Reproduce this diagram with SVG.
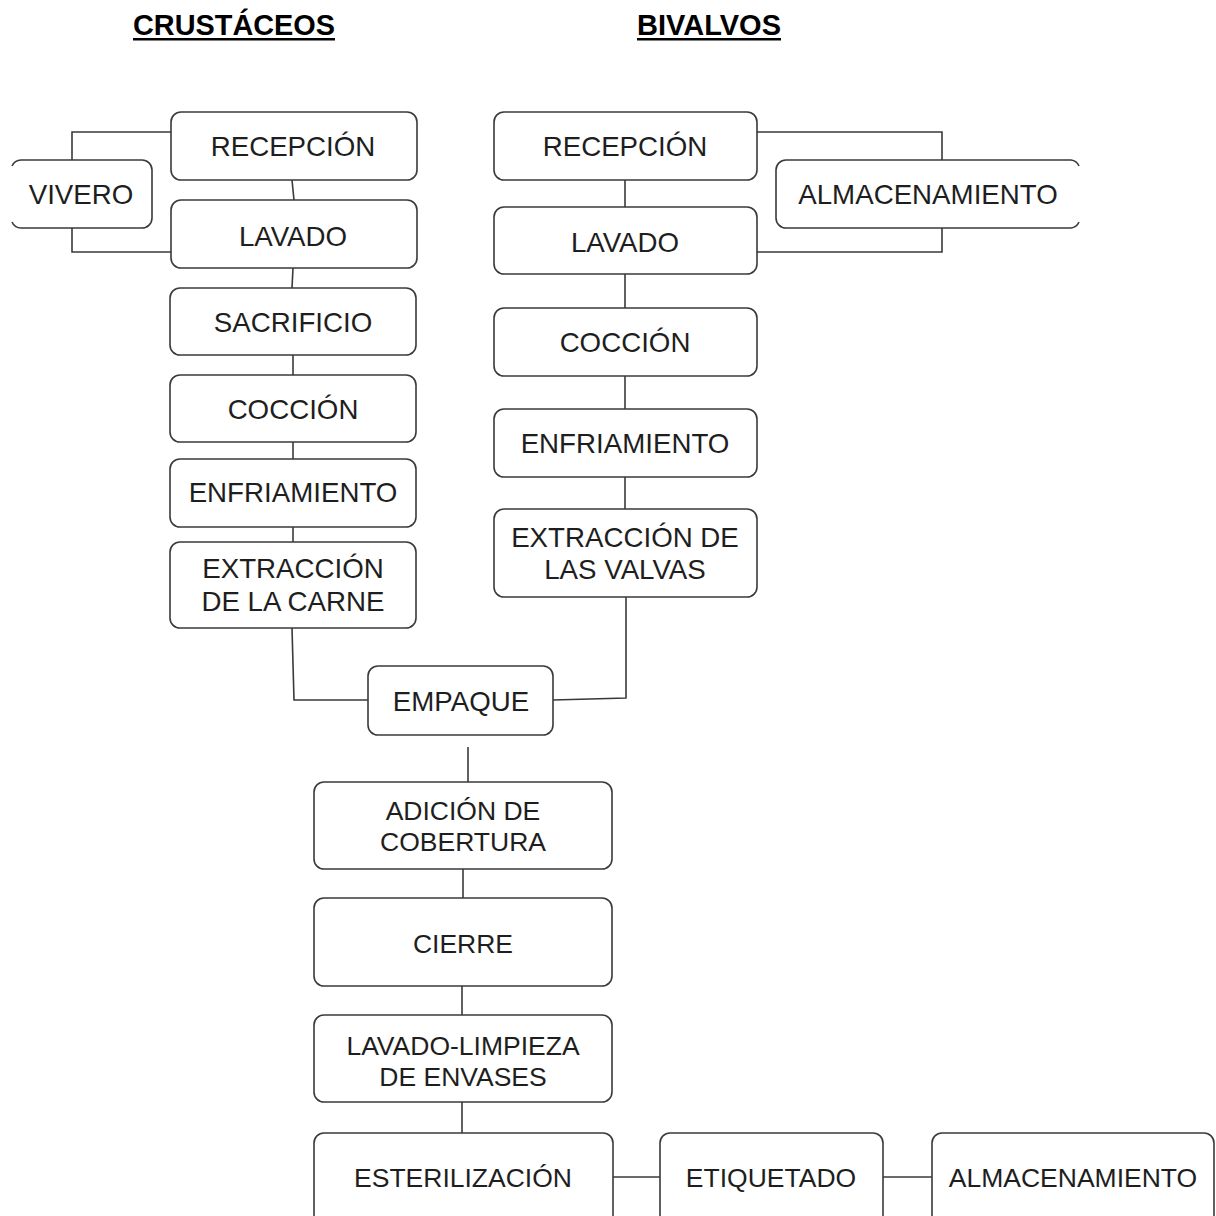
<svg xmlns="http://www.w3.org/2000/svg" width="1216" height="1216" viewBox="0 0 1216 1216">
<style>
.box{fill:#fff;stroke:#3a3a3a;stroke-width:1.6}
.lbl{font-family:"Liberation Sans",Arial,sans-serif;font-size:26.5px;fill:#1e1e1e;text-anchor:middle}
.big{font-size:27.7px}
.ttl{font-family:"Liberation Sans",Arial,sans-serif;font-size:29px;font-weight:bold;fill:#000;text-anchor:middle}
.con{fill:none;stroke:#3a3a3a;stroke-width:1.6}
</style>
<rect width="1216" height="1216" fill="#fff"/>
<g id="titles">
<text class="ttl" x="234" y="35" textLength="202" lengthAdjust="spacingAndGlyphs">CRUSTÁCEOS</text>
<rect x="133" y="38" width="202" height="2.5" fill="#000"/>
<text class="ttl" x="709" y="35" textLength="144" lengthAdjust="spacingAndGlyphs">BIVALVOS</text>
<rect x="637" y="38" width="144" height="2.5" fill="#000"/>
</g>
<g id="connectors">
<path class="con" d="M171 132 H72 V160"/>
<path class="con" d="M72 228 V252 H171"/>
<path class="con" d="M292 180 L294 200"/>
<path class="con" d="M293 268 L292 288"/>
<path class="con" d="M293 355 V375"/>
<path class="con" d="M293 442 V459"/>
<path class="con" d="M293 527 V542"/>
<path class="con" d="M292 628 L294 700 H368"/>
<path class="con" d="M757 132 H942 V160"/>
<path class="con" d="M942 228 V252 H757"/>
<path class="con" d="M625 180 V207"/>
<path class="con" d="M625 274 V308"/>
<path class="con" d="M625 376 V409"/>
<path class="con" d="M625 477 V509"/>
<path class="con" d="M626 597 V698 L553 700"/>
<path class="con" d="M468 747 V782"/>
<path class="con" d="M463 869 V898"/>
<path class="con" d="M462 986 V1015"/>
<path class="con" d="M462 1102 V1133"/>
<path class="con" d="M613 1177 H660"/>
<path class="con" d="M883 1177 H932"/>
</g>
<g id="n-vivero"><path class="box" d="M12 166 A10 10 0 0 1 21 160 H142 A10 10 0 0 1 152 170 V218 A10 10 0 0 1 142 228 H21 A10 10 0 0 1 12 222"/><text class="lbl big" x="81" y="204">VIVERO</text></g>
<g id="n-recepcion-c"><rect class="box" x="171" y="112" width="246" height="68" rx="10"/><text class="lbl big" x="293" y="156">RECEPCIÓN</text></g>
<g id="n-lavado-c"><rect class="box" x="171" y="200" width="246" height="68" rx="10"/><text class="lbl big" x="293" y="246">LAVADO</text></g>
<g id="n-sacrificio"><rect class="box" x="170" y="288" width="246" height="67" rx="10"/><text class="lbl big" x="293" y="332">SACRIFICIO</text></g>
<g id="n-coccion-c"><rect class="box" x="170" y="375" width="246" height="67" rx="10"/><text class="lbl big" x="293" y="419">COCCIÓN</text></g>
<g id="n-enfriamiento-c"><rect class="box" x="170" y="459" width="246" height="68" rx="10"/><text class="lbl big" x="293" y="502">ENFRIAMIENTO</text></g>
<g id="n-extraccion-c"><rect class="box" x="170" y="542" width="246" height="86" rx="10"/><text class="lbl big" x="293" y="578">EXTRACCIÓN</text><text class="lbl big" x="293" y="611">DE LA CARNE</text></g>
<g id="n-recepcion-b"><rect class="box" x="494" y="112" width="263" height="68" rx="10"/><text class="lbl big" x="625" y="156">RECEPCIÓN</text></g>
<g id="n-almacenamiento-b"><path class="box" d="M1079 166 A10 10 0 0 0 1071 160 H786 A10 10 0 0 0 776 170 V218 A10 10 0 0 0 786 228 H1071 A10 10 0 0 0 1079 222"/><text class="lbl big" x="928" y="204">ALMACENAMIENTO</text></g>
<g id="n-lavado-b"><rect class="box" x="494" y="207" width="263" height="67" rx="10"/><text class="lbl big" x="625" y="252">LAVADO</text></g>
<g id="n-coccion-b"><rect class="box" x="494" y="308" width="263" height="68" rx="10"/><text class="lbl big" x="625" y="352">COCCIÓN</text></g>
<g id="n-enfriamiento-b"><rect class="box" x="494" y="409" width="263" height="68" rx="10"/><text class="lbl big" x="625" y="453">ENFRIAMIENTO</text></g>
<g id="n-extraccion-b"><rect class="box" x="494" y="509" width="263" height="88" rx="10"/><text class="lbl big" x="625" y="547">EXTRACCIÓN DE</text><text class="lbl big" x="625" y="579">LAS VALVAS</text></g>
<g id="n-empaque"><rect class="box" x="368" y="666" width="185" height="69" rx="10"/><text class="lbl big" x="461" y="711">EMPAQUE</text></g>
<g id="n-adicion"><rect class="box" x="314" y="782" width="298" height="87" rx="10"/><text class="lbl" x="463" y="820">ADICIÓN DE</text><text class="lbl" x="463" y="851">COBERTURA</text></g>
<g id="n-cierre"><rect class="box" x="314" y="898" width="298" height="88" rx="10"/><text class="lbl" x="463" y="953">CIERRE</text></g>
<g id="n-lavado-limpieza"><rect class="box" x="314" y="1015" width="298" height="87" rx="10"/><text class="lbl" x="463" y="1055">LAVADO-LIMPIEZA</text><text class="lbl" x="463" y="1086">DE ENVASES</text></g>
<g id="n-esterilizacion"><rect class="box" x="314" y="1133" width="299" height="100" rx="10"/><text class="lbl" x="463" y="1187">ESTERILIZACIÓN</text></g>
<g id="n-etiquetado"><rect class="box" x="660" y="1133" width="223" height="100" rx="10"/><text class="lbl" x="771" y="1187">ETIQUETADO</text></g>
<g id="n-almacenamiento-f"><rect class="box" x="932" y="1133" width="282" height="100" rx="10"/><text class="lbl" x="1073" y="1187">ALMACENAMIENTO</text></g>
</svg>
